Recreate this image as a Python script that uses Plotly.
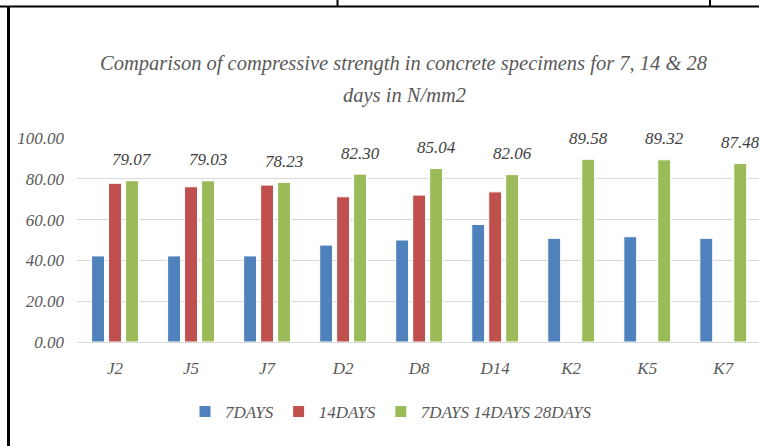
import plotly.graph_objects as go

categories = ["J2", "J5", "J7", "D2", "D8", "D14", "K2", "K5", "K7"]
days7 = [42.2, 42.2, 42.2, 47.5, 50.0, 57.6, 50.8, 51.6, 50.8]
days14 = [77.8, 76.1, 76.9, 71.2, 72.0, 73.6, None, None, None]
days28 = [79.07, 79.03, 78.23, 82.30, 85.04, 82.06, 89.58, 89.32, 87.48]
series_names = ["7DAYS", "14DAYS", "7DAYS 14DAYS 28DAYS"]
colors = ["#4f81bd", "#c0504d", "#9bbb59"]
yticks = [0, 20, 40, 60, 80, 100]
title_lines = ["Comparison of compressive strength in concrete specimens for 7, 14 & 28",
               "days in N/mm2"]

W, H = 759, 446
L, R, T, B = 77, 0, 138, 104
PW, PH = W - L - R, H - T - B
FONT = "Liberation Serif, Times New Roman, serif"
GRAY = "#595959"

def px(x):
    return (x - L) / PW

def py(y):
    return (H - B - y) / PH

fig = go.Figure()
for name, vals, col in zip(series_names, [days7, days14, days28], colors):
    fig.add_trace(go.Bar(
        name=name, x=categories, y=vals,
        marker=dict(color=col, line=dict(color="white", width=1)),
    ))

annotations = []
for c, v in zip(categories, days28):
    annotations.append(dict(
        x=c, y=v, xref="x", yref="y", text=f"{v:.2f}", showarrow=False,
        xshift=17, yshift=21, yanchor="middle",
        font=dict(family=FONT, size=17, color="#404040", style="italic"),
    ))

for line, ypix in zip(title_lines, [64, 95]):
    annotations.append(dict(
        x=px(404), y=py(ypix), xref="paper", yref="paper", showarrow=False,
        text=line,
        font=dict(family=FONT, size=20.5, color=GRAY, style="italic"),
        xanchor="center", yanchor="middle",
    ))

shapes = [
    dict(type="line", xref="paper", yref="paper", x0=px(0), x1=px(759), y0=py(6.5), y1=py(6.5),
         line=dict(color="black", width=2)),
    dict(type="line", xref="paper", yref="paper", x0=px(8.5), x1=px(8.5), y0=py(6), y1=py(446),
         line=dict(color="black", width=3)),
    dict(type="line", xref="paper", yref="paper", x0=px(337.5), x1=px(337.5), y0=py(0), y1=py(6),
         line=dict(color="black", width=2)),
    dict(type="line", xref="paper", yref="paper", x0=px(710), x1=px(710), y0=py(0), y1=py(6),
         line=dict(color="black", width=2)),
]

fig.update_layout(
    width=W, height=H,
    margin=dict(l=L, r=R, t=T, b=B, pad=0),
    paper_bgcolor="white", plot_bgcolor="white",
    barmode="group", bargap=0.33, bargroupgap=0.24,
    showlegend=True,
    legend=dict(orientation="h", x=px(391), y=py(412), xanchor="center", yanchor="middle",
                font=dict(family=FONT, size=17, color=GRAY, style="italic"),
                itemwidth=30, tracegroupgap=0),
    annotations=annotations, shapes=shapes,
    xaxis=dict(range=[-0.5, 8.47], showgrid=False, showline=True, linecolor="#d9d9d9",
               linewidth=1, ticks="", ticklabelstandoff=11,
               tickfont=dict(family=FONT, size=17, color=GRAY, style="italic")),
    yaxis=dict(range=[0, 100], tickvals=yticks, ticktext=[f"{v:.2f}" for v in yticks],
               showgrid=True, gridcolor="#d9d9d9", gridwidth=1, zeroline=False,
               showline=False, ticks="", ticklabelstandoff=12,
               tickfont=dict(family=FONT, size=17, color=GRAY, style="italic")),
)

fig.write_html("out.html")
